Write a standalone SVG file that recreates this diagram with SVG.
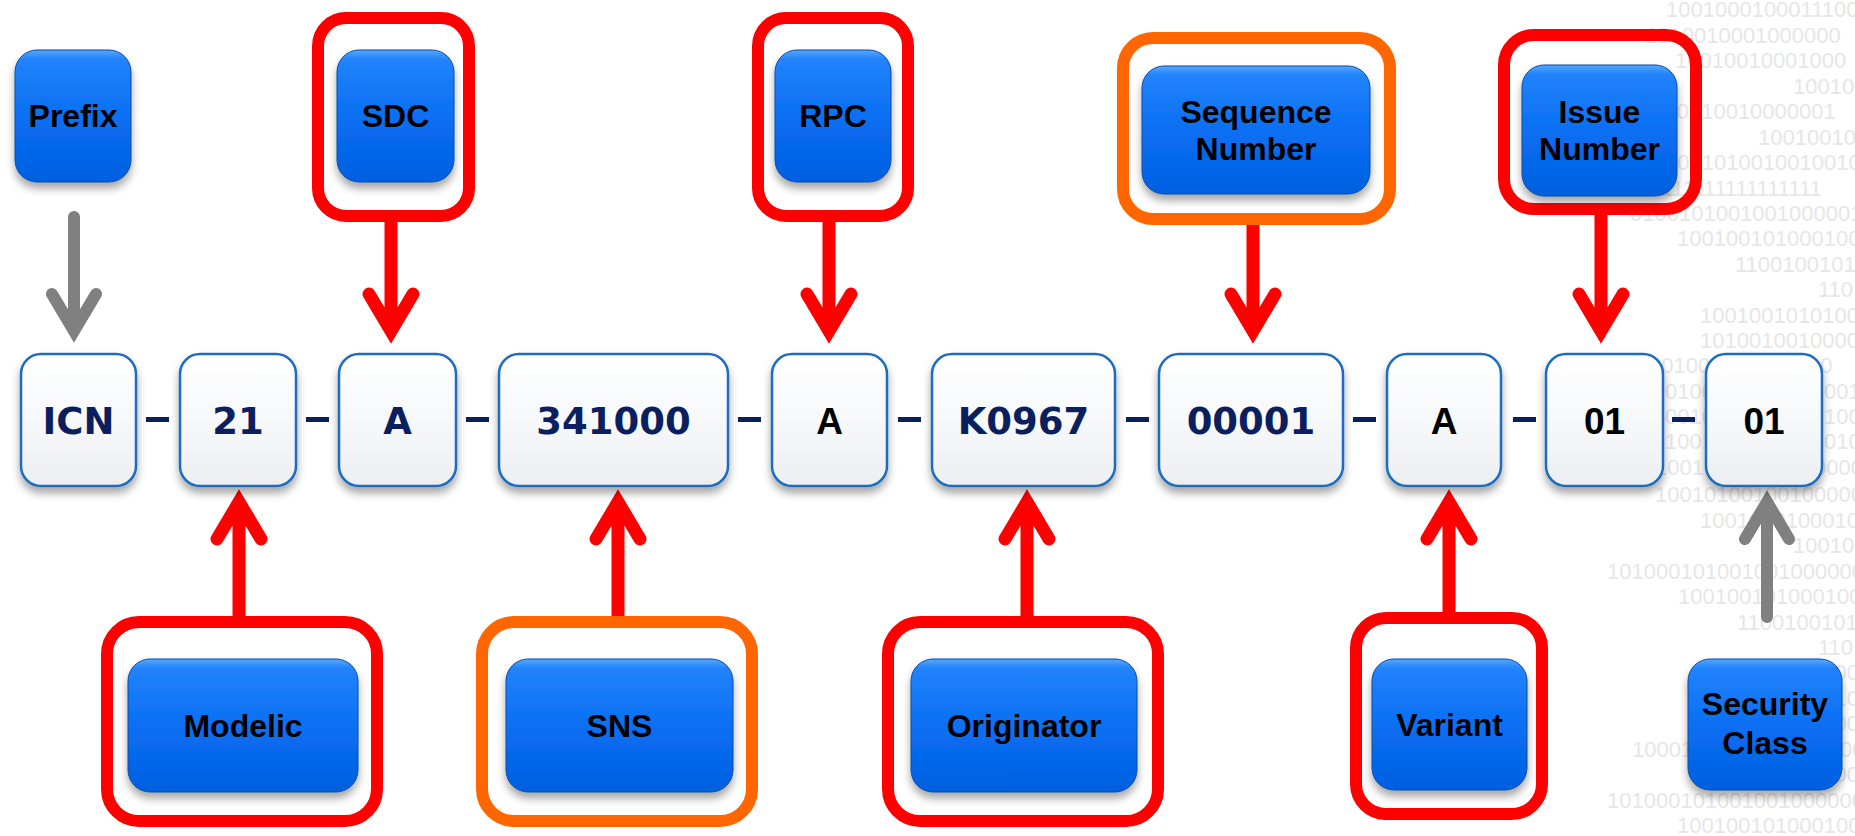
<svg xmlns="http://www.w3.org/2000/svg" width="1855" height="836" viewBox="0 0 1855 836">
<defs>
<linearGradient id="gBlue" x1="0" y1="0" x2="0" y2="1">
<stop offset="0" stop-color="#55a8ff"/>
<stop offset="0.07" stop-color="#2283fb"/>
<stop offset="0.5" stop-color="#0a6ff3"/>
<stop offset="1" stop-color="#0060df"/>
</linearGradient>
<linearGradient id="gWhite" x1="0" y1="0" x2="0" y2="1">
<stop offset="0" stop-color="#ffffff"/>
<stop offset="0.5" stop-color="#f7f8fa"/>
<stop offset="1" stop-color="#eceef1"/>
</linearGradient>
<filter id="sh" x="-20%" y="-20%" width="140%" height="150%">
<feDropShadow dx="0" dy="6" stdDeviation="4" flood-color="#000" flood-opacity="0.35"/>
</filter>
</defs>
<style>
.bin{font-family:"Liberation Sans",Arial,sans-serif;font-size:22px;fill:#e6e6e6}
.wb{fill:url(#gWhite);stroke:#1a6cc0;stroke-width:2.5;filter:url(#sh)}
.bb{fill:url(#gBlue);stroke:#0b4aa6;stroke-width:1;filter:url(#sh)}
.nv{font-family:"DejaVu Sans",Verdana,sans-serif;font-weight:bold;font-size:37px;fill:#0b1f5e;text-anchor:middle}
.bk{font-family:"Liberation Sans",Arial,sans-serif;font-weight:bold;font-size:37px;fill:#000;text-anchor:middle}
.lb{font-family:"Liberation Sans",Arial,sans-serif;font-weight:bold;font-size:32px;fill:#000;text-anchor:middle}
.fr{fill:none;stroke:#ff0000;stroke-width:12}
.fo{fill:none;stroke:#ff6600;stroke-width:12}
.ar{fill:none;stroke:#ff0000;stroke-width:13;stroke-linecap:round;stroke-linejoin:miter}
.ag{fill:none;stroke:#808080;stroke-width:12;stroke-linecap:round;stroke-linejoin:miter}
.sep{fill:#0b1f5e}
</style>
<rect width="1855" height="836" fill="#ffffff"/>
<g id="background-binary">
<text class="bin" x="1666" y="17">10010001000111000</text>
<text class="bin" x="1645" y="43">1010010001000000</text>
<text class="bin" x="1675" y="68">10010010001000</text>
<text class="bin" x="1793" y="94">10010</text>
<text class="bin" x="1640" y="119">1010010010000001</text>
<text class="bin" x="1758" y="145">100100100</text>
<text class="bin" x="1665" y="170">10010100100100100</text>
<text class="bin" x="1600" y="196">10010111111111111111</text>
<text class="bin" x="1630" y="221">0100101001001000001</text>
<text class="bin" x="1677" y="246">100100101000100</text>
<text class="bin" x="1735" y="272">1100100101</text>
<text class="bin" x="1818" y="297">110</text>
<text class="bin" x="1700" y="323">1001001010100010</text>
<text class="bin" x="1700" y="348">10100100100000</text>
<text class="bin" x="1600" y="373">1001001001010010010</text>
<text class="bin" x="1665" y="399">0100100100101001001</text>
<text class="bin" x="1665" y="424">0010010001000100100</text>
<text class="bin" x="1665" y="449">1001001010010010000</text>
<text class="bin" x="1655" y="475">10010100100100000</text>
<text class="bin" x="1655" y="502">10010100100100000</text>
<text class="bin" x="1700" y="528">10010001000100</text>
<text class="bin" x="1793" y="553">10010</text>
<text class="bin" x="1607" y="579">1010001010010010000001</text>
<text class="bin" x="1678" y="604">1001001010001001</text>
<text class="bin" x="1737" y="630">1100100101</text>
<text class="bin" x="1818" y="655">110</text>
<text class="bin" x="1700" y="680">1001001000100100</text>
<text class="bin" x="1700" y="706">1001001010010000</text>
<text class="bin" x="1700" y="731">1001000100100101</text>
<text class="bin" x="1632" y="757">1000100100100100100</text>
<text class="bin" x="1700" y="782">1001001000100100</text>
<text class="bin" x="1607" y="808">10100010100100100000001</text>
<text class="bin" x="1677" y="833">100100101000100</text>
</g>
<g id="separators">
<rect class="sep" x="146" y="417" width="23" height="5"/>
<rect class="sep" x="306" y="417" width="23" height="5"/>
<rect class="sep" x="466" y="417" width="23" height="5"/>
<rect class="sep" x="738" y="417" width="23" height="5"/>
<rect class="sep" x="898" y="417" width="23" height="5"/>
<rect class="sep" x="1126" y="417" width="23" height="5"/>
<rect class="sep" x="1353" y="417" width="23" height="5"/>
<rect class="sep" x="1513" y="417" width="23" height="5"/>
<rect class="sep" x="1672" y="417" width="23" height="5"/>
</g>
<g id="connectors">
<path class="ag" d="M74 217 V331 M52 294 L74 331 L96 294"/>
<path class="ar" d="M391 222 V331 M369 294 L391 331 L413 294"/>
<path class="ar" d="M829 222 V331 M807 294 L829 331 L851 294"/>
<path class="ar" d="M1253 225 V331 M1231 294 L1253 331 L1275 294"/>
<path class="ar" d="M1601 215 V331 M1579 294 L1601 331 L1623 294"/>
<path class="ar" d="M239 616 V502 M217 539 L239 502 L261 539"/>
<path class="ar" d="M618 616 V502 M596 539 L618 502 L640 539"/>
<path class="ar" d="M1027 616 V502 M1005 539 L1027 502 L1049 539"/>
<path class="ar" d="M1449 612 V502 M1427 539 L1449 502 L1471 539"/>
<path class="ag" d="M1767 617 V502 M1745 539 L1767 502 L1789 539"/>
</g>
<g id="code-ICN"><rect class="wb" x="21" y="354" width="115" height="132" rx="20"/><text class="nv" x="78.5" y="434">ICN</text></g>
<g id="code-21"><rect class="wb" x="180" y="354" width="116" height="132" rx="20"/><text class="nv" x="238" y="434">21</text></g>
<g id="code-A1"><rect class="wb" x="339" y="354" width="117" height="132" rx="20"/><text class="nv" x="397.5" y="434">A</text></g>
<g id="code-341000"><rect class="wb" x="499" y="354" width="229" height="132" rx="20"/><text class="nv" x="613.5" y="434">341000</text></g>
<g id="code-A2"><rect class="wb" x="772" y="354" width="115" height="132" rx="20"/><text class="bk" x="829.5" y="434">A</text></g>
<g id="code-K0967"><rect class="wb" x="932" y="354" width="183" height="132" rx="20"/><text class="nv" x="1023.5" y="434">K0967</text></g>
<g id="code-00001"><rect class="wb" x="1159" y="354" width="184" height="132" rx="20"/><text class="nv" x="1251" y="434">00001</text></g>
<g id="code-A3"><rect class="wb" x="1387" y="354" width="114" height="132" rx="20"/><text class="bk" x="1444" y="434">A</text></g>
<g id="code-01a"><rect class="wb" x="1546" y="354" width="117" height="132" rx="20"/><text class="bk" x="1604.5" y="434">01</text></g>
<g id="code-01b"><rect class="wb" x="1706" y="354" width="116" height="132" rx="20"/><text class="bk" x="1764" y="434">01</text></g>
<g id="label-prefix"><rect class="bb" x="15" y="50" width="116" height="132" rx="22"/><text class="lb" x="73" y="127">Prefix</text></g>
<g id="label-sdc"><rect class="fr" x="318" y="18" width="151" height="198" rx="28"/><rect class="bb" x="337" y="50" width="117" height="132" rx="22"/><text class="lb" x="395.5" y="127">SDC</text></g>
<g id="label-rpc"><rect class="fr" x="758" y="18" width="150" height="198" rx="28"/><rect class="bb" x="775" y="50" width="116" height="132" rx="22"/><text class="lb" x="833" y="127">RPC</text></g>
<g id="label-sequence"><rect class="fo" x="1123" y="38" width="267" height="181" rx="30"/><rect class="bb" x="1142" y="66" width="228" height="128" rx="22"/><text class="lb" x="1256" y="123">Sequence</text><text class="lb" x="1256" y="160">Number</text></g>
<g id="label-issue"><rect class="fr" x="1504" y="35" width="192" height="174" rx="30"/><rect class="bb" x="1522" y="65" width="155" height="131" rx="22"/><text class="lb" x="1599.5" y="123">Issue</text><text class="lb" x="1599.5" y="160">Number</text></g>
<g id="label-modelic"><rect class="fr" x="107" y="622" width="270" height="199" rx="32"/><rect class="bb" x="128" y="659" width="230" height="133" rx="22"/><text class="lb" x="243" y="737">Modelic</text></g>
<g id="label-sns"><rect class="fo" x="482" y="622" width="270" height="199" rx="32"/><rect class="bb" x="506" y="659" width="227" height="133" rx="22"/><text class="lb" x="619.5" y="737">SNS</text></g>
<g id="label-originator"><rect class="fr" x="888" y="622" width="270" height="199" rx="32"/><rect class="bb" x="911" y="659" width="226" height="133" rx="22"/><text class="lb" x="1024" y="737">Originator</text></g>
<g id="label-variant"><rect class="fr" x="1356" y="618" width="186" height="196" rx="30"/><rect class="bb" x="1372" y="659" width="155" height="131" rx="22"/><text class="lb" x="1449.5" y="736">Variant</text></g>
<g id="label-security"><rect class="bb" x="1688" y="659" width="154" height="131" rx="22"/><text class="lb" x="1765" y="715">Security</text><text class="lb" x="1765" y="754">Class</text></g>
</svg>
